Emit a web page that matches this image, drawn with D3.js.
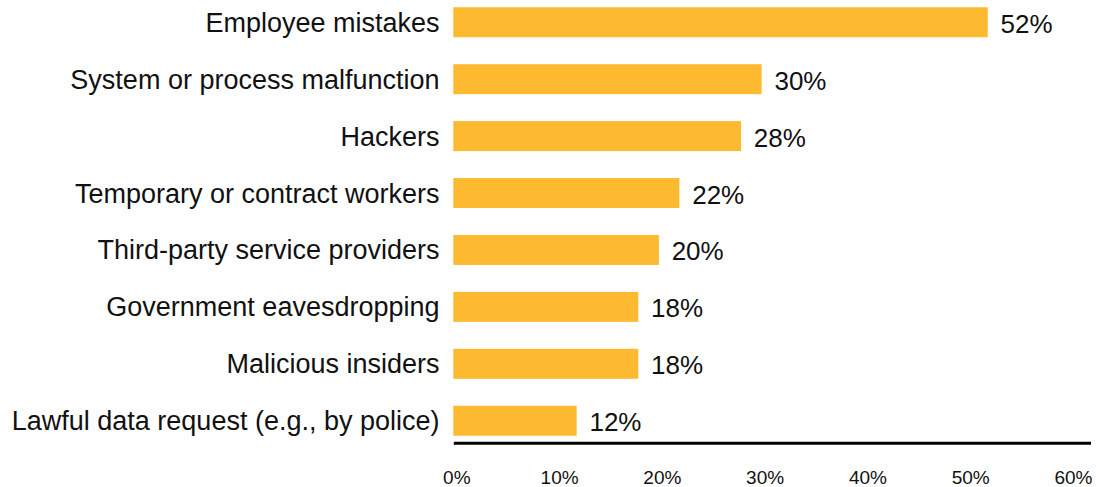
<!DOCTYPE html>
<html>
<head>
<meta charset="utf-8">
<script src="https://cdn.jsdelivr.net/npm/d3@7"></script>
<style>
  body { margin: 0; background: #fff; }
  svg { display: block; font-family: "Liberation Sans", Arial, Helvetica, sans-serif; }
</style>
</head>
<body>
<div id="vis1"></div>
<script>
// data
const categories = [
  "Employee mistakes",
  "System or process malfunction",
  "Hackers",
  "Temporary or contract workers",
  "Third-party service providers",
  "Government eavesdropping",
  "Malicious insiders",
  "Lawful data request (e.g., by police)"
];
const values = [52, 30, 28, 22, 20, 18, 18, 12];
const tickValues = [0, 10, 20, 30, 40, 50, 60];

const W = 1096, H = 487;
const barColor = "#FDB92F";

let svg = d3.select("#vis1")
  .append("svg")
  .attr("width", W)
  .attr("height", H)
  .attr("viewBox", [0, 0, W, H].join(" "));

let data = categories.map((c, i) => ({ category: c, value: values[i] }));

// x goes a little past 60% so the axis line runs out to the right
let x = d3.scaleLinear()
  .domain([0, 62])
  .range([453.3, 1090.5]);

let y = d3.scaleBand()
  .domain(categories)
  .range([-6.2, 449.2])
  .paddingInner(0.4737)
  .paddingOuter(0.2368);

// bars
svg.append("g")
  .selectAll("rect")
  .data(data)
  .join("rect")
    .attr("x", x(0))
    .attr("y", d => y(d.category))
    .attr("width", d => x(d.value) - x(0))
    .attr("height", y.bandwidth())
    .attr("fill", barColor);

// category labels
svg.append("g")
  .selectAll("text")
  .data(data)
  .join("text")
    .attr("x", 439.5)
    .attr("y", d => y(d.category) + y.bandwidth() / 2 + 9.5)
    .attr("text-anchor", "end")
    .attr("font-size", 27)
    .attr("fill", "#111")
    .text(d => d.category);

// value labels
svg.append("g")
  .selectAll("text")
  .data(data)
  .join("text")
    .attr("x", d => x(d.value) + 12.8)
    .attr("y", d => y(d.category) + y.bandwidth() / 2 + 10.5)
    .attr("font-size", 26)
    .attr("fill", "#111")
    .text(d => d.value + "%");

// x axis: thick baseline, no tick marks, labels below
let xAxis = svg.append("g")
  .attr("transform", "translate(0,442.7)")
  .call(d3.axisBottom(x).tickValues(tickValues).tickSize(0).tickPadding(0)
    .tickFormat(d => d + "%"));

xAxis.select(".domain")
  .attr("stroke", "#000")
  .attr("stroke-width", 3);

xAxis.selectAll(".tick text")
  .attr("font-family", "'Liberation Sans', Arial, sans-serif")
  .attr("font-size", 19)
  .attr("fill", "#111")
  .attr("dy", null)
  .attr("x", 3)
  .attr("y", 41.3);
</script>
</body>
</html>
